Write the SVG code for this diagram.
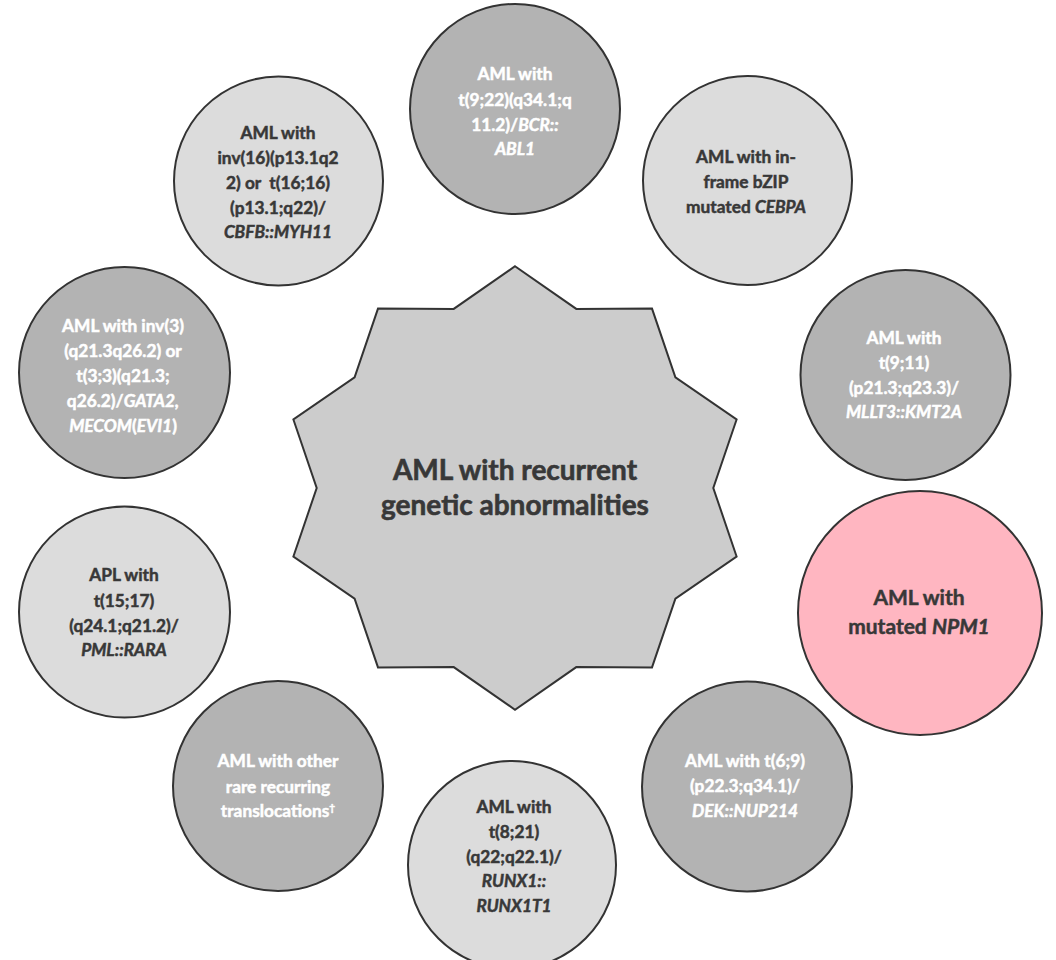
<svg xmlns="http://www.w3.org/2000/svg" width="1056" height="960" viewBox="0 0 1056 960">
<style>
.c{stroke:#333;stroke-width:2}
.lt{fill:#dcdcdc}
.dk{fill:#b3b3b3}
.pk{fill:#ffb6c1}
text{font-family:Lato,"Noto Sans",sans-serif;font-weight:bold;text-anchor:middle;font-size:17.3px}
.td{fill:#383838;stroke:#383838;stroke-width:0.5}
.tw{fill:#fff;stroke:#fff;stroke-width:0.5}
.big{font-size:21px}
.hub{font-size:28px;stroke-width:0.6}
.i{font-style:italic}
.sup{font-size:10px}
</style>
<rect width="1056" height="960" fill="#fff"/>
<g id="connectors"/>
<g id="hub">
<polygon fill="#cccccc" stroke="#333" stroke-width="2" points="515,266.3 576.3,308.9 652,308.6 675.4,377.3 736.6,419.5 713.3,488 736.6,556.5 675.4,598.7 652,667.4 576.3,667.1 515,709.7 453.7,667.1 378,667.4 354.6,598.7 293.4,556.5 316.7,488 293.4,419.5 354.6,377.3 378,308.6 453.7,308.9"/>
<text class="td hub" x="515" y="480">AML with recurrent</text>
<text class="td hub" x="515" y="515">genetic abnormalities</text>
</g>
<g id="n-bcr-abl1">
<circle class="c dk" cx="515" cy="109" r="105"/>
<text class="tw" x="515" y="80">AML with</text>
<text class="tw" x="515" y="106">t(9;22)(q34.1;q</text>
<text class="tw" x="515" y="131">11.2)/<tspan class="i">BCR::</tspan></text>
<text class="tw i" x="515" y="155">ABL1</text>
</g>
<g id="n-cebpa">
<circle class="c lt" cx="747.5" cy="180.5" r="104.5"/>
<text class="td" x="746" y="163">AML with in-</text>
<text class="td" x="746" y="188">frame bZIP</text>
<text class="td" x="746" y="213">mutated <tspan class="i">CEBPA</tspan></text>
</g>
<g id="n-mllt3">
<circle class="c dk" cx="905.5" cy="375" r="105"/>
<text class="tw" x="904" y="344">AML with</text>
<text class="tw" x="904" y="369">t(9;11)</text>
<text class="tw" x="904" y="394">(p21.3;q23.3)/</text>
<text class="tw i" x="904" y="418">MLLT3::KMT2A</text>
</g>
<g id="n-npm1">
<circle class="c pk" cx="920" cy="613" r="122"/>
<text class="td big" x="919" y="605">AML with</text>
<text class="td big" x="919" y="634">mutated <tspan class="i">NPM1</tspan></text>
</g>
<g id="n-dek">
<circle class="c dk" cx="747" cy="786.5" r="105"/>
<text class="tw" x="745" y="767">AML with t(6;9)</text>
<text class="tw" x="745" y="792">(p22.3;q34.1)/</text>
<text class="tw i" x="745" y="817">DEK::NUP214</text>
</g>
<g id="n-runx1">
<circle class="c lt" cx="512" cy="865" r="104"/>
<text class="td" x="514" y="813">AML with</text>
<text class="td" x="514" y="838">t(8;21)</text>
<text class="td" x="514" y="863">(q22;q22.1)/</text>
<text class="td i" x="514" y="887">RUNX1::</text>
<text class="td i" x="514" y="912">RUNX1T1</text>
</g>
<g id="n-other">
<circle class="c dk" cx="278" cy="786" r="105"/>
<text class="tw" x="278" y="767">AML with other</text>
<text class="tw" x="278" y="793">rare recurring</text>
<text class="tw" x="278" y="817">translocations<tspan class="sup" dy="-6">†</tspan></text>
</g>
<g id="n-apl">
<circle class="c lt" cx="124.5" cy="612" r="105.5"/>
<text class="td" x="124" y="581">APL with</text>
<text class="td" x="124" y="607">t(15;17)</text>
<text class="td" x="124" y="632">(q24.1;q21.2)/</text>
<text class="td i" x="124" y="656">PML::RARA</text>
</g>
<g id="n-mecom">
<circle class="c dk" cx="124.5" cy="372.5" r="105.5"/>
<text class="tw" x="123" y="332">AML with inv(3)</text>
<text class="tw" x="123" y="357">(q21.3q26.2) or</text>
<text class="tw" x="123" y="382">t(3;3)(q21.3;</text>
<text class="tw" x="123" y="407">q26.2)/<tspan class="i">GATA2,</tspan></text>
<text class="tw" x="123" y="432"><tspan class="i">MECOM</tspan>(<tspan class="i">EVI1</tspan>)</text>
</g>
<g id="n-cbfb">
<circle class="c lt" cx="278.5" cy="181" r="104.5"/>
<text class="td" x="278" y="139">AML with</text>
<text class="td" x="278" y="164">inv(16)(p13.1q2</text>
<text class="td" x="278" y="189" xml:space="preserve">2) or  t(16;16)</text>
<text class="td" x="278" y="214">(p13.1;q22)/</text>
<text class="td i" x="278" y="238">CBFB::MYH11</text>
</g>
</svg>
